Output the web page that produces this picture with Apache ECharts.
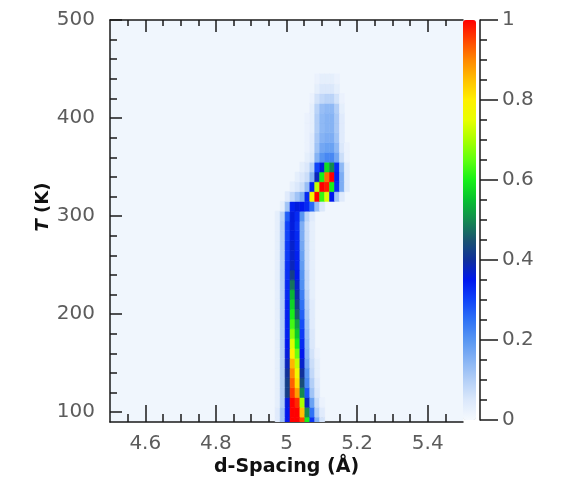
<!DOCTYPE html>
<html>
<head>
<meta charset="utf-8">
<title>d-Spacing vs T</title>
<script src="https://cdn.jsdelivr.net/npm/echarts@6/dist/echarts.min.js"></script>
<style>
  html, body { margin: 0; padding: 0; background: #ffffff; }
  #chart { width: 561px; height: 482px; }
</style>
</head>
<body>
<div id="chart"></div>
<script>
// Bin geometry of the intensity map
const dStep = 0.014;   // Å per bin
const tStep = 10;      // K per bin

// Bin centres along d-spacing (Å)
const dCenters = [4.975, 4.989, 5.003, 5.017, 5.031, 5.045, 5.059, 5.073,
                  5.087, 5.101, 5.115, 5.129, 5.143, 5.157, 5.171];

// Temperatures of the low-T stripe rows (K)
const stripeTemps = [90, 100, 110, 120, 130, 140, 150, 160, 170, 180, 190,
                     200, 210, 220, 230, 240, 250, 260, 270, 280, 290, 300];

// Normalised intensity for the low-T stripe, one row per temperature
const stripeIntensity = [
  [.04, .12, .35, 1.0, 1.0, .95, .60, .32, .15, .06, 0, 0, 0, 0, 0],
  [.04, .12, .35, 1.0, 1.0, .85, .50, .25, .10, .04, 0, 0, 0, 0, 0],
  [.03, .10, .36, 1.0, .97, .70, .38, .18, .07, .02, 0, 0, 0, 0, 0],
  [.03, .10, .42, .96, .88, .50, .28, .12, .05, 0, 0, 0, 0, 0, 0],
  [.03, .10, .42, .93, .82, .44, .22, .10, .04, 0, 0, 0, 0, 0, 0],
  [.03, .10, .40, .90, .77, .40, .20, .08, .03, 0, 0, 0, 0, 0, 0],
  [.03, .10, .38, .86, .72, .37, .17, .07, .03, 0, 0, 0, 0, 0, 0],
  [.03, .10, .36, .80, .66, .35, .15, .06, .02, 0, 0, 0, 0, 0, 0],
  [.03, .10, .35, .74, .60, .33, .14, .05, 0, 0, 0, 0, 0, 0, 0],
  [.03, .10, .34, .68, .56, .31, .13, .05, 0, 0, 0, 0, 0, 0, 0],
  [.03, .10, .34, .63, .52, .29, .12, .04, 0, 0, 0, 0, 0, 0, 0],
  [.03, .10, .34, .60, .46, .27, .11, .04, 0, 0, 0, 0, 0, 0, 0],
  [.03, .10, .34, .57, .42, .25, .10, .04, 0, 0, 0, 0, 0, 0, 0],
  [.03, .10, .33, .54, .39, .23, .09, .03, 0, 0, 0, 0, 0, 0, 0],
  [.03, .10, .33, .48, .37, .21, .08, .03, 0, 0, 0, 0, 0, 0, 0],
  [.03, .10, .32, .42, .35, .20, .08, .03, 0, 0, 0, 0, 0, 0, 0],
  [.03, .10, .32, .38, .34, .19, .07, .03, 0, 0, 0, 0, 0, 0, 0],
  [.03, .10, .31, .37, .34, .18, .07, .03, 0, 0, 0, 0, 0, 0, 0],
  [.03, .10, .31, .37, .33, .17, .07, .03, 0, 0, 0, 0, 0, 0, 0],
  [.03, .10, .30, .36, .33, .16, .07, .03, 0, 0, 0, 0, 0, 0, 0],
  [.03, .10, .30, .36, .32, .16, .07, .03, 0, 0, 0, 0, 0, 0, 0],
  [.03, .09, .27, .36, .33, .20, .09, .04, 0, 0, 0, 0, 0, 0, 0]
];

// Temperatures of the rows above the transition (K)
const upperTemps = [310, 320, 330, 340, 350, 360, 370, 380, 390, 400, 410, 420, 430, 440];

// Normalised intensity above the transition
const upperIntensity = [
  [0, .03, .12, .34, .36, .35, .33, .26, .13, .05, 0, 0, 0, 0, 0],
  [0, 0, .04, .08, .12, .16, .33, .78, 1.0, .62, .74, .35, .12, .04, 0],
  [0, 0, 0, .03, .05, .07, .13, .34, .72, 1.0, .98, .60, .33, .16, .04],
  [0, 0, 0, 0, .03, .05, .07, .15, .38, .60, .92, 1.0, .34, .16, .04],
  [0, 0, 0, 0, 0, .03, .05, .10, .30, .36, .58, .50, .33, .14, .04],
  [0, 0, 0, 0, 0, 0, .03, .05, .15, .20, .22, .22, .17, .07, .02],
  [0, 0, 0, 0, 0, 0, .02, .04, .12, .17, .18, .18, .14, .05, .02],
  [0, 0, 0, 0, 0, 0, .02, .04, .11, .15, .16, .16, .12, .04, 0],
  [0, 0, 0, 0, 0, 0, .02, .03, .10, .14, .15, .15, .11, .04, 0],
  [0, 0, 0, 0, 0, 0, .02, .03, .10, .14, .15, .15, .11, .04, 0],
  [0, 0, 0, 0, 0, 0, 0, .03, .09, .13, .14, .14, .10, .03, 0],
  [0, 0, 0, 0, 0, 0, 0, .02, .06, .08, .09, .09, .06, .02, 0],
  [0, 0, 0, 0, 0, 0, 0, 0, .03, .05, .05, .05, .03, 0, 0],
  [0, 0, 0, 0, 0, 0, 0, 0, .02, .03, .03, .03, .02, 0, 0]
];

// Axis ticks
const dTicks = [4.6, 4.8, 5, 5.2, 5.4];
const dMinorTicks = [4.55, 4.65, 4.7, 4.75, 4.85, 4.9, 4.95, 5.05, 5.1, 5.15, 5.25, 5.3, 5.35, 5.45];
const tTicks = [100, 200, 300, 400, 500];
const tMinorTicks = [120, 140, 160, 180, 220, 240, 260, 280, 320, 340, 360, 380, 420, 440, 460, 480];
const cbTicks = [0, 0.2, 0.4, 0.6, 0.8, 1];
const cbMinorTicks = [0.05, 0.1, 0.15, 0.25, 0.3, 0.35, 0.45, 0.5, 0.55, 0.65, 0.7, 0.75, 0.85, 0.9, 0.95];

// Colour scale from 0 (white-blue) to 1 (red)
const colorScale = [
  '#f5f9fe', '#dbe8fb', '#b3cff7', '#86b3f4', '#5896f2', '#2f72f5', '#1044f8',
  '#0018ee', '#10309a', '#1a5470', '#148a50', '#08c030', '#18f018', '#60ff10',
  '#a8ff00', '#e8ff00', '#fff000', '#ffc000', '#ff8800', '#ff4400', '#ff0000'
];

// Flatten the rows into [d, T, intensity] points
const cells = [];
function addRows(temps, rows) {
  temps.forEach(function (t, i) {
    rows[i].forEach(function (v, j) {
      if (v > 0) cells.push([dCenters[j], t, v]);
    });
  });
}
addRows(stripeTemps, stripeIntensity);
addRows(upperTemps, upperIntensity);

const FONT = 'DejaVu Sans';
const LABEL_COLOR = '#5c5c5c';
const LINE_COLOR = '#1a1a1a';

function renderCell(params, api) {
  const d = api.value(0), t = api.value(1);
  const p0 = api.coord([d - dStep / 2, t + tStep / 2]);
  const p1 = api.coord([d + dStep / 2, t - tStep / 2]);
  const cs = params.coordSys;
  const rect = echarts.graphic.clipRectByRect(
    { x: p0[0], y: p0[1], width: p1[0] - p0[0], height: p1[1] - p0[1] },
    { x: cs.x, y: cs.y, width: cs.width, height: cs.height }
  );
  if (!rect) return;
  const c = api.visual('color');
  return { type: 'rect', shape: rect, style: { fill: c, stroke: c, lineWidth: 0.6 } };
}

const chart = echarts.init(document.getElementById('chart'), null, { renderer: 'canvas' });

const tickLine = { color: LINE_COLOR, width: 1.5 };
const baseX = { gridIndex: 0, type: 'value', min: 4.5, max: 5.5, splitLine: { show: false } };
// Helper for tick-only axes on the narrow side grids
function tickAxis(grid, min, max, position, values, len) {
  return {
    gridIndex: grid, type: 'value', min: min, max: max, position: position,
    splitLine: { show: false },
    axisLine: { show: false, onZero: false },
    axisTick: { show: true, inside: false, length: len, customValues: values, lineStyle: tickLine },
    axisLabel: { show: false }
  };
}

chart.setOption({
  animation: false,
  backgroundColor: '#ffffff',
  textStyle: { fontFamily: FONT },
  grid: [
    // main plot
    { left: 110, right: 98, top: 20, bottom: 60, show: true, backgroundColor: '#f0f6fd', borderWidth: 0, outerBoundsMode: 'none' },
    // colour-bar scale
    { left: 479, width: 1, top: 20, height: 400, outerBoundsMode: 'none' },
    // strip along the left frame carrying the inward T ticks
    { left: 109, width: 1, top: 20, bottom: 60, outerBoundsMode: 'none' }
  ],
  xAxis: [
    Object.assign({}, baseX, {
      position: 'bottom',
      name: 'd-Spacing (Å)', nameLocation: 'middle', nameGap: 36, nameMoveOverlap: false,
      nameTextStyle: { fontFamily: FONT, fontSize: 19, fontWeight: 'bold', color: '#111' },
      axisLine: { show: true, onZero: false, lineStyle: tickLine },
      axisTick: { show: true, inside: true, length: 17, customValues: dTicks, lineStyle: tickLine },
      axisLabel: { show: true, customValues: dTicks, margin: 12, fontFamily: FONT, fontSize: 20, color: LABEL_COLOR }
    }),
    Object.assign({}, baseX, {
      position: 'bottom',
      axisLine: { show: false, onZero: false },
      axisTick: { show: true, inside: true, length: 8, customValues: dMinorTicks, lineStyle: tickLine },
      axisLabel: { show: false }
    }),
    Object.assign({}, baseX, {
      position: 'top',
      axisLine: { show: true, onZero: false, lineStyle: tickLine },
      axisTick: { show: true, inside: true, length: 12, customValues: dTicks, lineStyle: tickLine },
      axisLabel: { show: false }
    }),
    Object.assign({}, baseX, {
      position: 'top',
      axisLine: { show: false, onZero: false },
      axisTick: { show: true, inside: true, length: 6, customValues: dMinorTicks, lineStyle: tickLine },
      axisLabel: { show: false }
    }),
    { gridIndex: 1, type: 'value', min: 0, max: 1, show: false },
    { gridIndex: 2, type: 'value', min: 0, max: 1, show: false }
  ],
  yAxis: [
    {
      gridIndex: 0, type: 'value', min: 90, max: 500, position: 'left',
      splitLine: { show: false },
      name: '{i|T} (K)', nameLocation: 'middle', nameGap: 58, nameMoveOverlap: false,
      nameTextStyle: {
        fontFamily: FONT, fontSize: 18, fontWeight: 'bold', color: '#111',
        padding: [0, 0, 0, 28],
        rich: { i: { fontFamily: FONT, fontSize: 18, fontWeight: 'bold', fontStyle: 'italic', color: '#111' } }
      },
      axisLine: { show: true, onZero: false, lineStyle: tickLine },
      axisTick: { show: false },
      axisLabel: { show: true, customValues: tTicks, margin: 15, fontFamily: FONT, fontSize: 20, color: LABEL_COLOR }
    },
    tickAxis(2, 90, 500, 'right', tTicks, 12),
    tickAxis(2, 90, 500, 'right', tMinorTicks, 7),
    {
      gridIndex: 1, type: 'value', min: 0, max: 1, position: 'right',
      splitLine: { show: false },
      axisLine: { show: true, onZero: false, lineStyle: tickLine },
      axisTick: { show: true, inside: false, length: 18, customValues: cbTicks, lineStyle: tickLine },
      axisLabel: { show: true, customValues: cbTicks, margin: 22, fontFamily: FONT, fontSize: 20, color: LABEL_COLOR }
    },
    tickAxis(1, 0, 1, 'right', cbMinorTicks, 7)
  ],
  visualMap: {
    type: 'continuous',
    seriesIndex: 0,
    dimension: 2,
    min: 0,
    max: 1,
    orient: 'vertical',
    left: 463,
    top: 20,
    itemWidth: 13,
    itemHeight: 400,
    padding: 0,
    calculable: false,
    hoverLink: false,
    inRange: { color: colorScale }
  },
  series: [{
    type: 'custom',
    xAxisIndex: 0,
    yAxisIndex: 0,
    renderItem: renderCell,
    encode: { x: 0, y: 1 },
    data: cells,
    clip: true
  }]
});
</script>
</body>
</html>
